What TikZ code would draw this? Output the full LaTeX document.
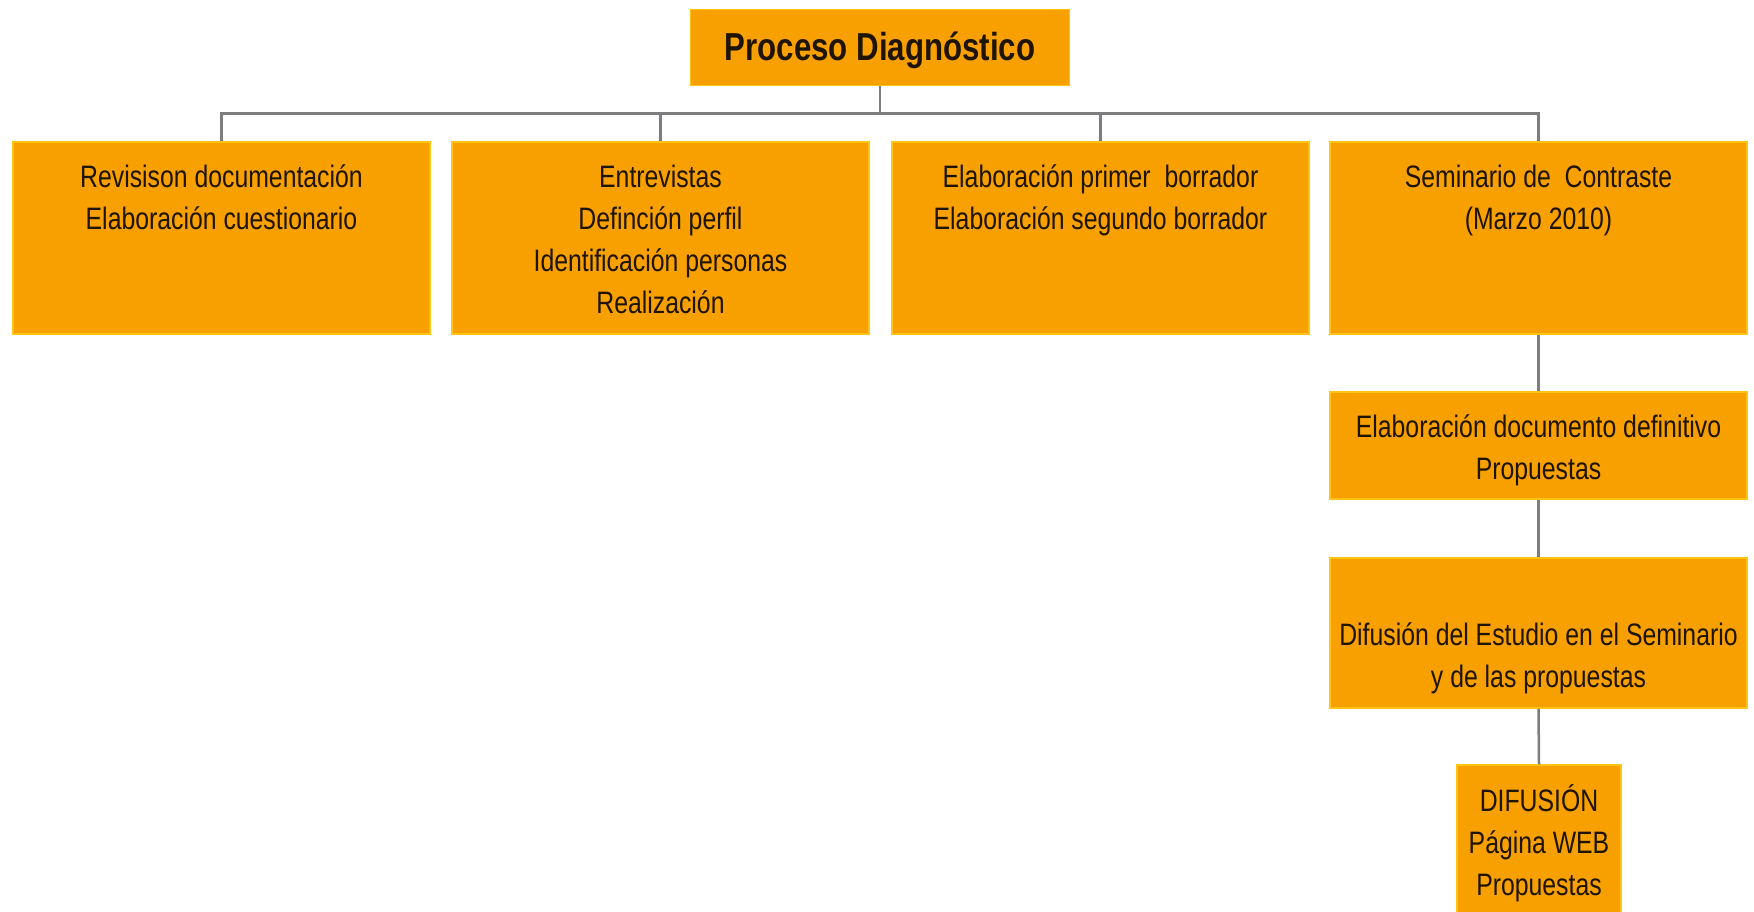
\documentclass[tikz,border=0pt]{standalone}
\usepackage{fontspec}
\setmainfont{Liberation Sans}[FakeStretch=0.8]
\definecolor{boxfill}{RGB}{247,160,0}
\definecolor{boxedge}{RGB}{255,196,20}
\definecolor{txt}{RGB}{30,20,0}
\definecolor{conncol}{RGB}{125,125,128}
\tikzset{
  box/.style={draw=boxedge, line width=1.5pt, fill=boxfill, inner sep=0pt},
  boxtext/.style={anchor=north, inner sep=0pt, align=center, text=txt,
    font=\fontsize{31}{42}\selectfont},
  conn/.style={draw=conncol, line width=2.5pt},
}
\begin{document}
\begin{tikzpicture}[x=1pt,y=-1pt]
\useasboundingbox (0,0) rectangle (1754,911);
% boxes
\node[box, minimum width=379pt, minimum height=76pt] (top) at (880,47.5) {};
\node[anchor=base, inner sep=0pt, text=txt, font=\fontsize{39}{45}\selectfont\bfseries] (toptext) at (880,60) {Proceso Diagnóstico};
\node[box, minimum width=417pt, minimum height=192pt] (b1) at (221.5,238) {};
\node[box, minimum width=417pt, minimum height=192pt] (b2) at (660.5,238) {};
\node[box, minimum width=417pt, minimum height=192pt] (b3) at (1100.5,238) {};
\node[box, minimum width=417pt, minimum height=192pt] (b4) at (1538.5,238) {};
\node[box, minimum width=417pt, minimum height=107pt] (b5) at (1538.5,445.5) {};
\node[box, minimum width=417pt, minimum height=150pt] (b6) at (1538.5,633) {};
\node[box, minimum width=164pt, minimum height=160pt] (b7) at (1539,845) {};
% texts
\node[boxtext] (t1) at (221.5,158) {\strut Revisison documentación\\Elaboración cuestionario};
\node[boxtext] (t2) at (660.5,158) {\strut Entrevistas\\Definción perfil\\Identificación personas\\Realización};
\node[boxtext] (t3) at (1100.5,158) {\strut Elaboración primer~ borrador\\Elaboración segundo borrador};
\node[boxtext] (t4) at (1538.5,158) {\strut Seminario de~ Contraste\\(Marzo 2010)};
\node[boxtext] (t5) at (1538.5,408) {\strut Elaboración documento definitivo\\Propuestas};
\node[boxtext] (t6) at (1538.5,616) {\strut Difusión del Estudio en el Seminario\\y de las propuestas};
\node[boxtext] (t7) at (1539,782) {\strut DIFUSIÓN\\Página WEB\\Propuestas};
% connectors
\draw[conn] (top.south) -- ++(0,27) -| (b1.north);
\draw[conn] (top.south) -- ++(0,27) -| (b2.north);
\draw[conn] (top.south) -- ++(0,27) -| (b3.north);
\draw[conn] (top.south) -- ++(0,27) -| (b4.north);
\draw[conn] (b4.south) -- (b5.north);
\draw[conn] (b5.south) -- (b6.north);
\draw[conn] (b6.south) -- (b7.north);
\end{tikzpicture}
\end{document}
